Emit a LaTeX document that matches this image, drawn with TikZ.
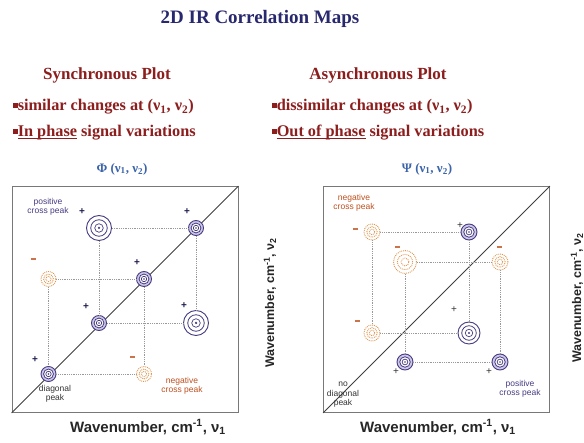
\documentclass[tikz,border=0pt]{standalone}
\usepackage{fontspec}
\setmainfont{Liberation Serif}
\setsansfont{Liberation Sans}
\usetikzlibrary{positioning}
\definecolor{titleblue}{RGB}{40,40,110}
\definecolor{darkred}{RGB}{140,30,30}
\definecolor{phiblue}{RGB}{60,100,170}
\definecolor{peakblue}{RGB}{70,60,130}
\definecolor{lavender}{RGB}{205,200,232}
\definecolor{negorange}{RGB}{222,150,80}
\definecolor{signnavy}{RGB}{30,30,80}
\definecolor{labelred}{RGB}{190,80,30}
\definecolor{boxgray}{RGB}{120,120,120}
\newcommand{\phaseline}[1]{\setbox0\hbox{#1}\rlap{\rule[-2.2pt]{\wd0}{0.9pt}}\box0\relax}

\begin{document}
\begin{tikzpicture}[x=1pt, y=-1pt,
        heading/.style={font=\fontsize{17}{19}\selectfont\bfseries, text=darkred},
        bulletline/.style={anchor=west, inner sep=0pt, font=\fontsize{16.3}{18}\selectfont\bfseries, text=darkred},
        maplabel/.style={font=\fontsize{13}{15}\selectfont\bfseries, text=phiblue},
        plotbox/.style={draw=boxgray, line width=0.9pt, minimum width=226pt,
                        minimum height=226pt, inner sep=0pt},
        axislabel/.style={font=\sffamily\bfseries\fontsize{15}{17}\selectfont, text=black!85},
        sidelabel/.style={font=\sffamily\bfseries\fontsize{12.5}{14}\selectfont, text=black!85, rotate=90},
        peaklabel/.style={font=\sffamily\fontsize{8.5}{9.5}\selectfont, align=center, inner sep=0pt},
        pospeak/.style={circle, draw=peakblue, line width=0.9pt, fill=white, inner sep=0pt,
                        minimum size=#1, path picture={
                \draw[peakblue, line width=0.8pt] (path picture bounding box.center) circle[radius=0.33*#1];
                \draw[peakblue, line width=0.7pt] (path picture bounding box.center) circle[radius=0.17*#1];
                \fill[peakblue] (path picture bounding box.center) circle[radius=0.05*#1];}},
        diagpeak/.style={circle, draw=peakblue, line width=0.9pt, fill=lavender, inner sep=0pt,
                        minimum size=#1, path picture={
                \draw[peakblue, line width=0.8pt, fill=white] (path picture bounding box.center) circle[radius=0.33*#1];
                \draw[peakblue, line width=0.7pt] (path picture bounding box.center) circle[radius=0.18*#1];
                \fill[peakblue] (path picture bounding box.center) circle[radius=0.06*#1];}},
        negpeak/.style={circle, draw=negorange, densely dotted, line width=0.9pt, fill=white,
                        inner sep=0pt, minimum size=#1, path picture={
                \draw[negorange, densely dotted, line width=0.9pt] (path picture bounding box.center) circle[radius=0.33*#1];
                \draw[negorange, densely dotted, line width=0.9pt] (path picture bounding box.center) circle[radius=0.17*#1];}},
        guide/.style={draw=gray!80, densely dotted, line width=0.8pt},
        diag/.style={draw=black!75, line width=0.8pt},
        plus/.style={font=\sffamily\bfseries\fontsize{10}{10}\selectfont, text=signnavy, inner sep=0pt},
        thinplus/.style={font=\sffamily\fontsize{10}{10}\selectfont, text=black!80, inner sep=0pt},
        minus/.style={fill=labelred!80, minimum width=5pt, minimum height=1.6pt, inner sep=0pt},
    ]
    \useasboundingbox[fill=white] (0,0) rectangle (584,443);

    % headings
    \node[font=\fontsize{19}{21}\selectfont\bfseries, text=titleblue] (title) at (260,19) {2D IR Correlation Maps};
    \node[heading] (synchead)  at (107,75) {Synchronous Plot};
    \node[heading] (asynchead) at (378,75) {Asynchronous Plot};
    \node[bulletline] (sync1) at (13,107)
        {\rule[0.2em]{0.28em}{0.28em}similar changes at (ν\textsubscript{1}, ν\textsubscript{2})};
    \node[bulletline] (sync2) at (13,133)
        {\rule[0.2em]{0.28em}{0.28em}\phaseline{In phase} signal variations};
    \node[bulletline] (async1) at (272,107)
        {\rule[0.2em]{0.28em}{0.28em}dissimilar changes at (ν\textsubscript{1}, ν\textsubscript{2})};
    \node[bulletline] (async2) at (272,133)
        {\rule[0.2em]{0.28em}{0.28em}\phaseline{Out of phase} signal variations};
    \node[maplabel] (phi) at (122,169) {Φ (ν\textsubscript{1}, ν\textsubscript{2})};
    \node[maplabel] (psi) at (427,169) {Ψ (ν\textsubscript{1}, ν\textsubscript{2})};

    % synchronous map
    \node[plotbox] (lbox) at (125,299.5) {};
    \draw[diag] (lbox.south west) -- (lbox.north east);
    \node[diagpeak=15pt] (d1) at (48.5,374) {};
    \node[diagpeak=15pt] (d2) at (99,323) {};
    \node[diagpeak=15pt] (d3) at (144,279) {};
    \node[diagpeak=15pt] (d4) at (196,228) {};
    \node[pospeak=25pt]  (p1) at (99,228) {};
    \node[pospeak=25pt]  (p2) at (196,323) {};
    \node[negpeak=15pt]  (n1) at (48.5,279) {};
    \node[negpeak=15pt]  (n2) at (144,374) {};
    \draw[guide] (p1) -- (d4);
    \draw[guide] (p1) -- (d2);
    \draw[guide] (d2) -- (p2);
    \draw[guide] (d4) -- (p2);
    \draw[guide] (n1) -- (d3);
    \draw[guide] (n1) -- (d1);
    \draw[guide] (d1) -- (n2);
    \draw[guide] (d3) -- (n2);
    \node[plus] (ls1) at (82,212) {+};
    \node[plus] (ls2) at (187,212) {+};
    \node[plus] (ls3) at (137,263) {+};
    \node[plus] (ls4) at (86,307) {+};
    \node[plus] (ls5) at (184,306) {+};
    \node[plus] (ls6) at (35,360) {+};
    \node[minus] (ls7) at (33,259) {};
    \node[minus] (ls8) at (132,357) {};
    \node[peaklabel, text=peakblue] (lpos) at (48,207) {positive\\cross peak};
    \node[peaklabel, text=black!80] (ldiag) at (55,394) {diagonal\\peak};
    \node[peaklabel, text=labelred] (lneg) at (182,386) {negative\\cross peak};
    \node[axislabel] (lxlab) at (148,427) {Wavenumber, cm\textsuperscript{-1}, ν\textsubscript{1}};
    \node[sidelabel] (lylab) at (270,303) {Wavenumber, cm\textsuperscript{-1}, ν\textsubscript{2}};

    % asynchronous map
    \node[plotbox] (rbox) at (436.5,299.5) {};
    \draw[diag] (rbox.south west) -- (rbox.north east);
    \node[negpeak=16pt]  (rn1) at (372,232) {};
    \node[diagpeak=16pt] (rp1) at (469,232) {};
    \node[negpeak=23pt]  (rn2) at (405,262) {};
    \node[negpeak=16pt]  (rn3) at (500,262) {};
    \node[negpeak=16pt]  (rn4) at (372,333) {};
    \node[pospeak=22pt]  (rp2) at (469,333) {};
    \node[diagpeak=16pt] (rp3) at (405,362) {};
    \node[diagpeak=16pt] (rp4) at (500,362) {};
    \draw[guide] (rn1) -- (rp1);
    \draw[guide] (rn1) -- (rn4);
    \draw[guide] (rp1) -- (rp2);
    \draw[guide] (rn4) -- (rp2);
    \draw[guide] (rn2) -- (rn3);
    \draw[guide] (rn2) -- (rp3);
    \draw[guide] (rn3) -- (rp4);
    \draw[guide] (rp3) -- (rp4);
    \node[minus] (rs1) at (355,229) {};
    \node[thinplus] (rs2) at (460,226) {+};
    \node[minus] (rs3) at (397,247) {};
    \node[minus] (rs4) at (499,247) {};
    \node[minus] (rs5) at (357,321) {};
    \node[thinplus] (rs6) at (454,310) {+};
    \node[thinplus] (rs7) at (396,372) {+};
    \node[thinplus] (rs8) at (489,372) {+};
    \node[peaklabel, text=labelred] (rneg) at (354,203) {negative\\cross peak};
    \node[peaklabel, text=black!80] (rnodiag) at (343,395) {no\\diagonal\\peak};
    \node[peaklabel, text=peakblue] (rpos) at (520,389) {positive\\cross peak};
    \node[axislabel] (rxlab) at (438,427) {Wavenumber, cm\textsuperscript{-1}, ν\textsubscript{1}};
    \node[sidelabel] (rylab) at (577,298) {Wavenumber, cm\textsuperscript{-1}, ν\textsubscript{2}};
\end{tikzpicture}
\end{document}
